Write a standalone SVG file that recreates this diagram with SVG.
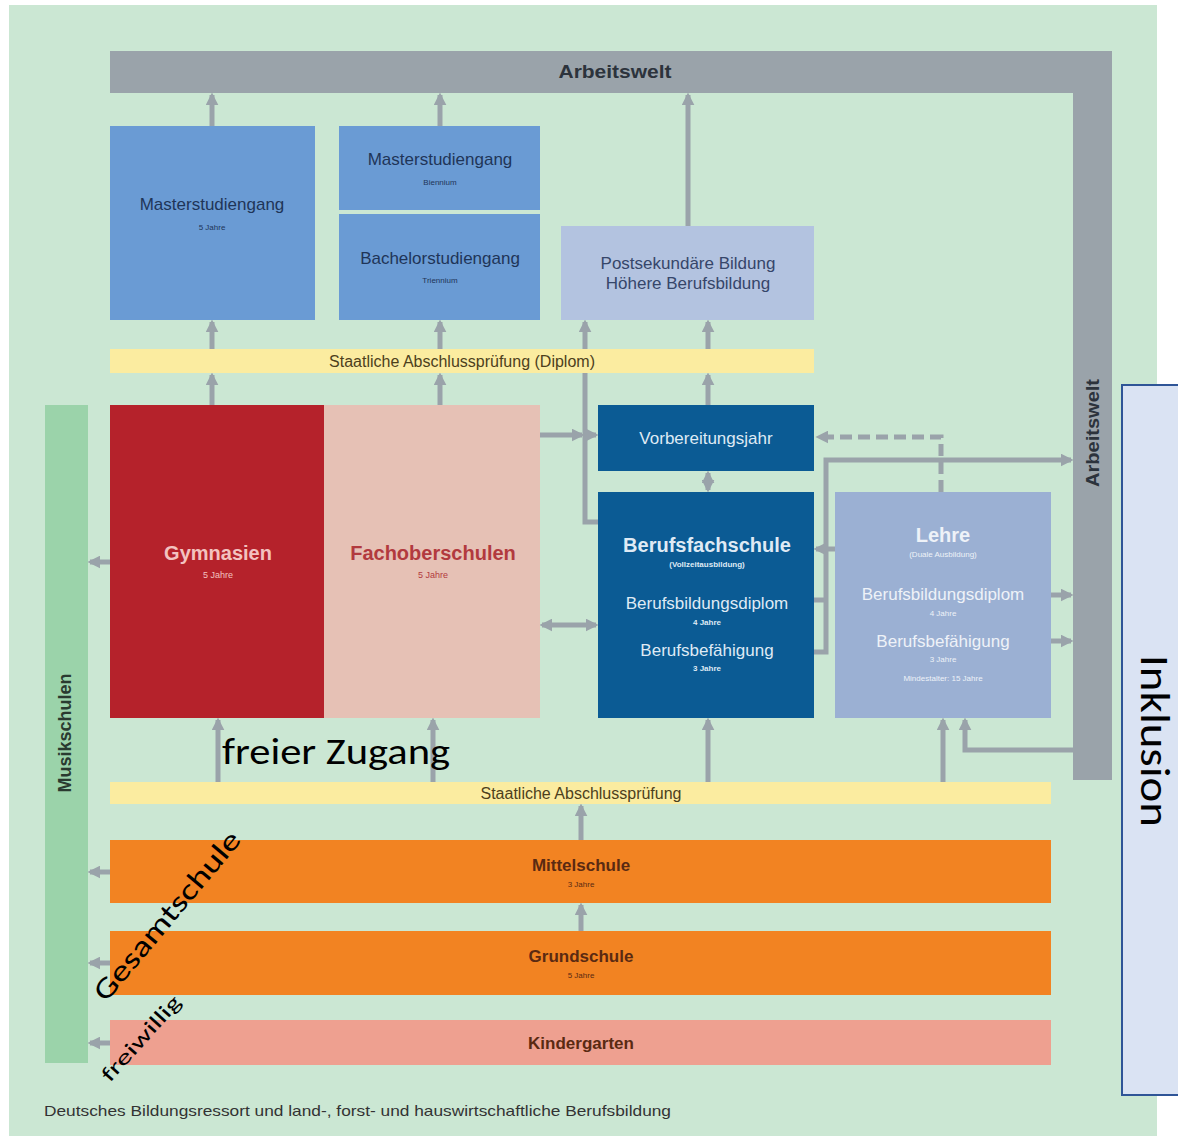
<svg xmlns="http://www.w3.org/2000/svg" width="1178" height="1136" viewBox="0 0 1178 1136">
<defs>
<style>
text{font-family:"Liberation Sans","Noto Sans",Arial,sans-serif;text-anchor:middle}
.t{font-size:17px;fill:#1f3558}
.s{font-size:8px;fill:#1f3558}
.w{font-size:17px;fill:#dfeaf4}
.ws{font-size:8px;fill:#dfeaf4;font-weight:bold}
.lw{font-size:17px;fill:#eef2f8}
.ls{font-size:8px;fill:#eef2f8}
.o{font-size:17px;fill:#5a2a12;font-weight:bold}
.os{font-size:8px;fill:#5a2a12}
.c{fill:none;stroke:#9aa3aa;stroke-width:5}
.big{font-family:Carlito,"Liberation Sans",sans-serif;fill:#000;text-anchor:start}
</style>
<marker id="ah" viewBox="0 0 10 10" refX="8" refY="5" markerWidth="2.6" markerHeight="2.6" orient="auto-start-reverse">
<path d="M0,0 L10,5 L0,10 z" fill="#9aa3aa"/>
</marker>
</defs>
<rect x="0" y="0" width="1178" height="1136" fill="#ffffff"/>
<rect x="9" y="5" width="1148" height="1131" fill="#cbe7d3"/>

<g id="arbeitswelt">
<path d="M110,51 H1112 V780 H1073 V93 H110 Z" fill="#9aa3aa"/>
<text x="615" y="78" style="font-size:19px;font-weight:bold;fill:#2c333c" textLength="113" lengthAdjust="spacingAndGlyphs">Arbeitswelt</text>
<text transform="translate(1099,433) rotate(-90)" style="font-size:18px;font-weight:bold;fill:#2c333c" textLength="108" lengthAdjust="spacingAndGlyphs">Arbeitswelt</text>
</g>

<g id="connectors">
<line class="c" x1="212" y1="126" x2="212" y2="95" marker-end="url(#ah)"/>
<line class="c" x1="440" y1="126" x2="440" y2="95" marker-end="url(#ah)"/>
<line class="c" x1="688" y1="226" x2="688" y2="95" marker-end="url(#ah)"/>
<line class="c" x1="212" y1="349" x2="212" y2="322" marker-end="url(#ah)"/>
<line class="c" x1="440" y1="349" x2="440" y2="322" marker-end="url(#ah)"/>
<line class="c" x1="212" y1="405" x2="212" y2="375" marker-end="url(#ah)"/>
<line class="c" x1="440" y1="405" x2="440" y2="375" marker-end="url(#ah)"/>
<line class="c" x1="708" y1="349" x2="708" y2="322" marker-end="url(#ah)"/>
<line class="c" x1="708" y1="405" x2="708" y2="375" marker-end="url(#ah)"/>
<polyline class="c" points="598,522 585,522 585,322" marker-end="url(#ah)"/>
<line class="c" x1="540" y1="435" x2="582" y2="435" marker-end="url(#ah)"/>
<line class="c" x1="585" y1="435" x2="596" y2="435" marker-end="url(#ah)"/>
<line class="c" x1="708" y1="490" x2="708" y2="473" marker-start="url(#ah)" marker-end="url(#ah)"/>
<line class="c" x1="542" y1="625" x2="596" y2="625" marker-start="url(#ah)" marker-end="url(#ah)"/>
<polyline points="941,492 941,437 818,437" fill="none" stroke="#9aa3aa" stroke-width="5" stroke-dasharray="12,6" marker-end="url(#ah)"/>
<polyline class="c" points="814,652 826,652 826,460 1071,460" marker-end="url(#ah)"/>
<line class="c" x1="814" y1="600" x2="826" y2="600"/>
<line class="c" x1="835" y1="549" x2="816" y2="549" marker-end="url(#ah)"/>
<line class="c" x1="1051" y1="595" x2="1071" y2="595" marker-end="url(#ah)"/>
<line class="c" x1="1051" y1="641" x2="1071" y2="641" marker-end="url(#ah)"/>
<line class="c" x1="943" y1="782" x2="943" y2="720" marker-end="url(#ah)"/>
<polyline class="c" points="1073,750 965,750 965,720" marker-end="url(#ah)"/>
<line class="c" x1="708" y1="782" x2="708" y2="720" marker-end="url(#ah)"/>
<line class="c" x1="218" y1="782" x2="218" y2="720" marker-end="url(#ah)"/>
<line class="c" x1="433" y1="782" x2="433" y2="720" marker-end="url(#ah)"/>
<line class="c" x1="581" y1="840" x2="581" y2="806" marker-end="url(#ah)"/>
<line class="c" x1="581" y1="931" x2="581" y2="905" marker-end="url(#ah)"/>
<line class="c" x1="110" y1="562" x2="90" y2="562" marker-end="url(#ah)"/>
<line class="c" x1="110" y1="872" x2="90" y2="872" marker-end="url(#ah)"/>
<line class="c" x1="110" y1="963" x2="90" y2="963" marker-end="url(#ah)"/>
<line class="c" x1="110" y1="1043" x2="90" y2="1043" marker-end="url(#ah)"/>
</g>

<g id="master5">
<rect x="110" y="126" width="205" height="194" fill="#6a9bd4"/>
<text class="t" x="212" y="210">Masterstudiengang</text>
<text class="s" x="212" y="230">5 Jahre</text>
</g>
<g id="masterBiennium">
<rect x="339" y="126" width="201" height="84" fill="#6a9bd4"/>
<text class="t" x="440" y="165">Masterstudiengang</text>
<text class="s" x="440" y="185">Biennium</text>
</g>
<g id="bachelor">
<rect x="339" y="214" width="201" height="106" fill="#6a9bd4"/>
<text class="t" x="440" y="264">Bachelorstudiengang</text>
<text class="s" x="440" y="283">Triennium</text>
</g>
<g id="postsekundaer">
<rect x="561" y="226" width="253" height="94" fill="#b3c3e0"/>
<text class="t" x="688" y="269" style="fill:#36466a">Postsekundäre Bildung</text>
<text class="t" x="688" y="289" style="fill:#36466a">Höhere Berufsbildung</text>
</g>
<g id="diplom">
<rect x="110" y="349" width="704" height="24" fill="#fbeca0"/>
<text x="462" y="367" style="font-size:16px;fill:#4d3f1c">Staatliche Abschlussprüfung (Diplom)</text>
</g>
<g id="musikschulen">
<rect x="45" y="405" width="43" height="658" fill="#9bd3aa"/>
<text transform="translate(71,733) rotate(-90)" style="font-size:18px;font-weight:bold;fill:#2a3a30">Musikschulen</text>
</g>
<g id="gymnasien">
<rect x="110" y="405" width="214" height="313" fill="#b5222b"/>
<text x="218" y="560" style="font-size:20px;font-weight:bold;fill:#f3c2c0">Gymnasien</text>
<text x="218" y="578" style="font-size:9px;fill:#f3c2c0">5 Jahre</text>
</g>
<g id="fachoberschulen">
<rect x="324" y="405" width="216" height="313" fill="#e6c1b5"/>
<text x="433" y="560" style="font-size:20px;font-weight:bold;fill:#b23a3e">Fachoberschulen</text>
<text x="433" y="578" style="font-size:9px;fill:#b23a3e">5 Jahre</text>
</g>
<g id="vorbereitungsjahr">
<rect x="598" y="405" width="216" height="66" fill="#0b5b94"/>
<text class="w" x="706" y="444">Vorbereitungsjahr</text>
</g>
<g id="berufsfachschule">
<rect x="598" y="492" width="216" height="226" fill="#0b5b94"/>
<text x="707" y="552" style="font-size:20px;font-weight:bold;fill:#dfeaf4">Berufsfachschule</text>
<text class="ws" x="707" y="567">(Vollzeitausbildung)</text>
<text class="w" x="707" y="609">Berufsbildungsdiplom</text>
<text class="ws" x="707" y="625">4 Jahre</text>
<text class="w" x="707" y="656">Berufsbefähigung</text>
<text class="ws" x="707" y="671">3 Jahre</text>
</g>
<g id="lehre">
<rect x="835" y="492" width="216" height="226" fill="#9bb0d3"/>
<text x="943" y="542" style="font-size:20px;font-weight:bold;fill:#eef2f8">Lehre</text>
<text class="ls" x="943" y="557">(Duale Ausbildung)</text>
<text class="lw" x="943" y="600">Berufsbildungsdiplom</text>
<text class="ls" x="943" y="616">4 Jahre</text>
<text class="lw" x="943" y="647">Berufsbefähigung</text>
<text class="ls" x="943" y="662">3 Jahre</text>
<text class="ls" x="943" y="681">Mindestalter: 15 Jahre</text>
</g>
<g id="abschluss">
<rect x="110" y="782" width="941" height="22" fill="#fbeca0"/>
<text x="581" y="799" style="font-size:16px;fill:#4d3f1c">Staatliche Abschlussprüfung</text>
</g>
<g id="mittelschule">
<rect x="110" y="840" width="941" height="63" fill="#f28322"/>
<text class="o" x="581" y="871">Mittelschule</text>
<text class="os" x="581" y="887">3 Jahre</text>
</g>
<g id="grundschule">
<rect x="110" y="931" width="941" height="64" fill="#f28322"/>
<text class="o" x="581" y="962">Grundschule</text>
<text class="os" x="581" y="978">5 Jahre</text>
</g>
<g id="kindergarten">
<rect x="110" y="1020" width="941" height="45" fill="#eea090"/>
<text class="o" x="581" y="1049">Kindergarten</text>
</g>
<g id="inklusion">
<rect x="1122" y="385" width="60" height="710" fill="#dae3f3" stroke="#2f5597" stroke-width="2"/>
<text transform="translate(1141,741) rotate(90)" style="font-family:Carlito,'Liberation Sans',sans-serif;font-size:40px;fill:#000" textLength="172" lengthAdjust="spacingAndGlyphs">Inklusion</text>
</g>
<text x="44" y="1116" style="font-size:15px;fill:#333;text-anchor:start" textLength="627" lengthAdjust="spacingAndGlyphs">Deutsches Bildungsressort und land-, forst- und hauswirtschaftliche Berufsbildung</text>
<text class="big" x="222" y="764" style="font-size:36px" textLength="228" lengthAdjust="spacingAndGlyphs">freier Zugang</text>
<text class="big" transform="translate(106,1003) rotate(-50)" style="font-size:29px" textLength="212" lengthAdjust="spacingAndGlyphs">Gesamtschule</text>
<text class="big" transform="translate(110,1083) rotate(-48)" style="font-size:21px" textLength="108" lengthAdjust="spacingAndGlyphs">freiwillig</text>
</svg>
